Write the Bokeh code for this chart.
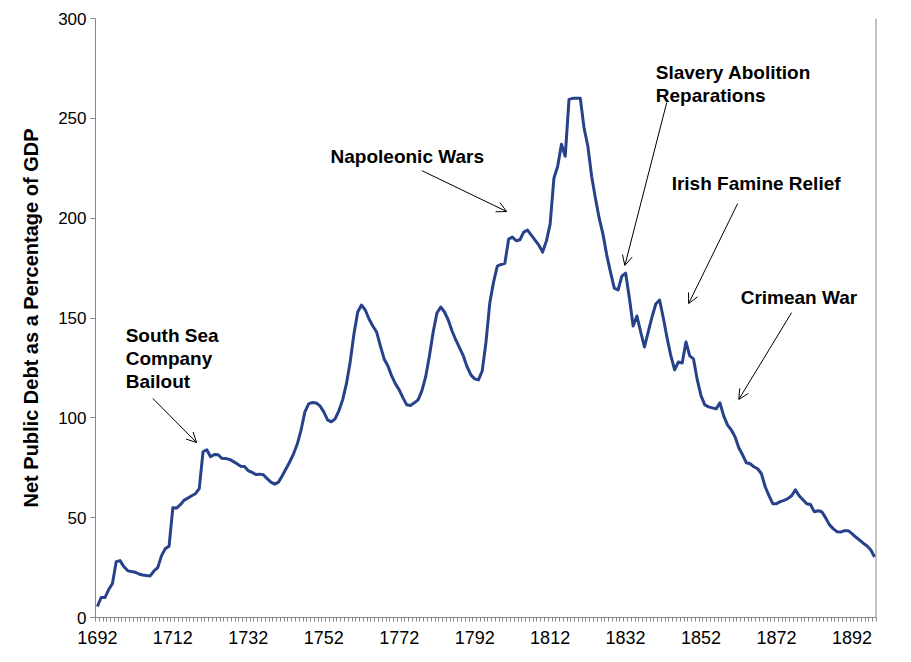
from bokeh.plotting import figure
from bokeh.models import Range1d, FixedTicker, Arrow, OpenHead, Span, Label, ColumnDataSource
from bokeh.embed import file_html
from bokeh.resources import INLINE

# ---- data ----
years = list(range(1692, 1899))
debt = [
    5.5, 10, 10, 14, 17, 28, 28.5, 25.5, 23.5, 23,            # 1692-1701
    22.7, 21.8, 21.3, 21, 20.8, 23.3, 25, 31, 34.5, 35.7,     # 1702-1711
    55, 54.8, 56.5, 58.8, 59.8, 61, 62, 64.5, 83, 84,         # 1712-1721
    80.5, 81.6, 81.5, 79.7, 79.6, 79.2, 78.2, 77, 75.8, 75.6, # 1722-1731
    73.5, 72.7, 71.6, 71.8, 71.5, 69.5, 67.8, 66.8, 67.8, 71, # 1732-1741
    74.5, 78, 82, 87, 94, 103, 107, 107.7, 107.4, 106,        # 1742-1751
    103, 99, 98, 99.5, 103.5, 109, 117, 128, 142, 153,        # 1752-1761
    156.5, 154, 149.5, 146, 143, 136, 129.5, 126, 121, 117,   # 1762-1771
    114, 110, 106.5, 106.2, 107.5, 109, 113.5, 120.5, 131, 143,  # 1772-1781
    152.5, 155.5, 153, 149, 143.5, 139, 135, 131, 125.5, 121.5,  # 1782-1791
    119.5, 119, 123.5, 138, 157.5, 168, 176, 176.8, 177.4, 189.5,  # 1792-1801
    190.5, 188.7, 189.2, 193, 194, 191.5, 189, 186.5, 183, 188.5,  # 1802-1811
    197, 220, 226, 237, 231, 259.5, 260, 260, 260, 245,       # 1812-1821
    236, 221, 210, 200, 192, 181.5, 173, 165, 164, 171,       # 1822-1831
    172.5, 160, 146, 151, 143, 135.5, 143, 150.5, 157, 159,   # 1832-1841
    150, 140, 131, 124, 128, 127.5, 138, 131, 129.5, 119,     # 1842-1851
    111, 106.5, 105.5, 105, 104.5, 107.5, 101, 96.5, 94, 90.5,  # 1852-1861
    85, 81.5, 77.5, 77, 75.5, 74.5, 72, 65.5, 61, 57,         # 1862-1871
    57, 58, 58.7, 59.5, 61, 64, 61, 59, 57, 56.6,             # 1872-1881
    53, 53.5, 53, 50, 46.5, 44.5, 43, 42.8, 43.5, 43.5,       # 1882-1891
    42, 40.3, 38.8, 37.2, 35.8, 33.8, 30.3,                   # 1892-1898
]
x_tick_labels = list(range(1692, 1893, 20))
y_ticks = [0, 50, 100, 150, 200, 250, 300]

# annotation texts: (text lines, x year, y value of each line)
notes = [
    (["South Sea", "Company", "Bailout"], 1699.5, [141.2, 129.7, 118.2]),
    (["Napoleonic Wars"], 1753.8, [230.8]),
    (["Slavery Abolition", "Reparations"], 1840.0, [272.9, 261.4]),
    (["Irish Famine Relief"], 1844.2, [217.3]),
    (["Crimean War"], 1862.5, [160.2]),
]
# arrows: (x_start, y_start, x_end, y_end)
arrows = [
    (1706.7, 109.7, 1718.3, 87.6),
    (1778.0, 223.8, 1800.5, 203.3),
    (1842.9, 257.9, 1831.8, 176.3),
    (1861.7, 207.3, 1848.7, 157.2),
    (1876.0, 152.7, 1862.0, 109.2),
]

FONT = "Liberation Sans"
GRAY = "#868686"
LINE = "#27418A"

p = figure(width=903, height=654, output_backend="svg", toolbar_location=None,
           x_range=Range1d(1691.5, 1898.5), y_range=Range1d(0, 300),
           min_border_left=95, min_border_right=27, min_border_top=18, min_border_bottom=37)
p.outline_line_color = None
p.grid.grid_line_color = None
p.background_fill_color = "white"
p.border_fill_color = "white"

src = ColumnDataSource(dict(year=years, debt=debt))
p.line("year", "debt", source=src, line_color=LINE, line_width=3, line_join="round")

# x axis
p.xaxis.ticker = FixedTicker(ticks=x_tick_labels,
                             minor_ticks=[y - 0.5 for y in years] + [years[-1] + 0.5])
p.xaxis.axis_line_color = GRAY
p.xaxis.major_tick_line_color = None
p.xaxis.major_tick_out = 4
p.xaxis.major_tick_in = 0
p.xaxis.minor_tick_line_color = GRAY
p.xaxis.minor_tick_out = 4
p.xaxis.minor_tick_in = 0
p.xaxis.major_label_standoff = 9
p.xaxis.major_label_text_font = FONT
p.xaxis.major_label_text_font_size = "18px"
p.xaxis.major_label_text_color = "black"

# y axis
p.yaxis.ticker = FixedTicker(ticks=y_ticks)
p.yaxis.axis_line_color = GRAY
p.yaxis.major_tick_line_color = GRAY
p.yaxis.major_tick_out = 5
p.yaxis.major_tick_in = 0
p.yaxis.minor_tick_line_color = None
p.yaxis.major_label_standoff = 4
p.yaxis.major_label_text_font = FONT
p.yaxis.major_label_text_font_size = "17px"
p.yaxis.major_label_text_color = "black"
p.yaxis.axis_label = "Net Public Debt as a Percentage of GDP"
p.yaxis.axis_label_text_font = FONT
p.yaxis.axis_label_text_font_style = "bold"
p.yaxis.axis_label_text_font_size = "20px"
p.yaxis.axis_label_text_color = "black"
p.yaxis.axis_label_standoff = 13

# right border line
p.add_layout(Span(location=1898.5, dimension="height", line_color=GRAY, line_width=2))

for lines, x, ys in notes:
    for t, yv in zip(lines, ys):
        p.add_layout(Label(x=x, y=yv, text=t, text_font=FONT, text_font_style="bold",
                           text_font_size="19px", text_color="black",
                           text_align="left", text_baseline="middle"))

for xs, ys, xe, ye in arrows:
    p.add_layout(Arrow(x_start=xs, y_start=ys, x_end=xe, y_end=ye,
                       line_color="black", line_width=1,
                       end=OpenHead(size=10, line_color="black", line_width=1)))

open("out.html", "w").write(file_html(p, INLINE))
